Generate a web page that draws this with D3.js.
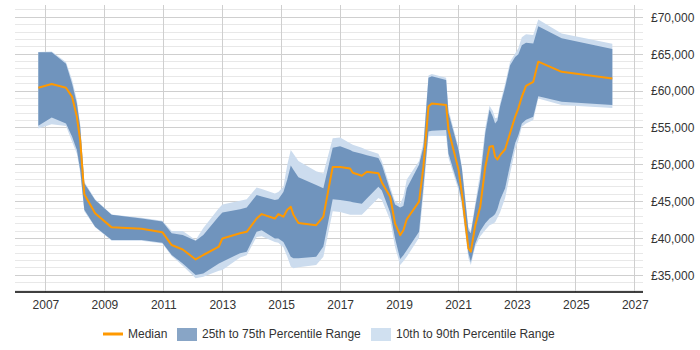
<!DOCTYPE html>
<html>
<head>
<meta charset="utf-8">
<script src="https://cdn.jsdelivr.net/npm/d3@7"></script>
<style>
  body { margin: 0; background: #fff; }
  text { font-family: "Liberation Sans", Arial, sans-serif; }
</style>
</head>
<body>
<svg id="chart" width="700" height="350"></svg>
<script>
var dates = ["2006-10-05","2007-03-20","2007-09-13","2007-11-28","2008-01-26","2008-03-07","2008-04-27","2008-09-08",
  "2009-04-01","2010-04-08","2010-12-20","2011-04-15","2011-08-30","2012-02-06","2012-05-11","2012-11-20",
  "2013-01-03","2013-08-10","2013-10-31","2014-03-03","2014-05-05","2014-10-15","2014-11-27","2015-01-29",
  "2015-03-18","2015-04-30","2015-06-02","2015-08-03","2016-03-10","2016-06-07","2016-10-01","2017-01-01",
  "2017-05-05","2017-06-07","2017-09-27","2017-11-28","2018-04-20","2018-06-02","2018-09-13","2018-11-13",
  "2019-01-15","2019-02-24","2019-04-07","2019-09-06","2019-10-30","2020-01-01","2020-02-11","2020-08-07",
  "2020-09-05","2021-01-08","2021-02-18","2021-05-10","2021-06-09","2021-08-03","2021-10-04","2021-12-05",
  "2022-01-27","2022-03-09","2022-04-06","2022-05-05","2022-06-06","2022-08-08","2022-10-09","2022-12-10",
  "2023-01-19","2023-03-03","2023-04-24","2023-07-23","2023-09-23","2024-07-09","2026-03-29"];

var median = [60450,60950,60450,59200,56500,53300,46000,43400,
  41500,41300,40850,39100,38500,37150,37750,38900,
  40000,40700,40900,42700,43300,42700,43300,42950,
  43900,44300,43200,42100,41800,42950,49700,49700,
  49500,48900,48500,49050,48850,47600,45650,42000,
  40450,41100,42600,45000,49700,57900,58300,58100,
  54700,49300,46100,38650,38200,41800,44300,49700,
  52450,52550,51100,50700,51300,52100,54300,56500,
  57650,59200,60700,61250,63980,62600,61700];

var p25 = [55300,56400,55600,53800,52000,49300,43900,41600,
  39800,39800,39400,37750,36600,35050,35250,36600,
  36850,38000,38200,40900,41100,40000,40000,39500,
  38500,37500,37300,37300,37500,38900,45300,45200,
  45000,44900,44700,45400,47000,46500,43500,40000,
  37200,37700,38400,40900,47000,54500,54600,54700,
  51500,47000,45000,38000,36800,39300,41000,42050,
  42700,43000,43300,44000,45200,46800,50000,52900,
  54000,55600,56100,56500,59300,58550,58100];

var p75 = [65250,65250,63700,61000,58300,55200,47500,45200,
  43200,42700,42300,40700,40450,39700,40450,43000,
  43500,43950,44200,45900,45700,45200,45300,46300,
  48000,49900,49300,48300,47250,46800,52300,52500,
  52000,51800,51500,51300,50900,50000,46500,44600,
  44200,44400,46800,50000,52400,61800,62000,61500,
  57000,52000,49500,41100,40700,44300,48000,54260,
  57500,56500,55600,56000,57900,60500,63500,64600,
  65000,66200,66550,66450,68800,67150,65700];

var p10 = [54900,55500,55250,53100,51500,48900,43700,41500,
  39700,39700,39300,37600,36300,34600,34800,35600,
  35700,37400,37700,40200,40300,39500,39400,38800,
  37500,36200,35950,36100,36400,37500,43700,43600,
  43200,43200,43200,43900,45500,45200,42500,38800,
  36400,36900,37500,40100,46000,53850,53900,53900,
  50900,46500,44300,37300,36400,38900,40300,41140,
  41800,42000,42200,42800,43500,45500,48800,52000,
  53300,55150,55600,56050,59000,58100,57700];

var p90 = [65300,65350,63950,61500,58800,55500,47700,45300,
  43250,42800,42400,41000,41000,39800,41400,44100,
  44600,45100,45300,46900,46700,46100,46300,47000,
  50000,52000,51500,50500,49100,48800,53600,53700,
  52900,52700,52300,52000,51500,50500,47000,45000,
  44700,45700,48000,50500,53000,62100,62300,61800,
  57500,52300,49800,41500,41000,44800,49000,55000,
  58000,57300,56300,56400,58300,61000,64000,65100,
  65800,67300,67700,67600,69700,67800,66400];

var xTickYears = [2007, 2009, 2011, 2013, 2015, 2017, 2019, 2021, 2023, 2025, 2027];
var yTickValues = [35000, 40000, 45000, 50000, 55000, 60000, 65000, 70000];
var legendLabels = ["Median", "25th to 75th Percentile Range", "10th to 90th Percentile Range"];

var parseDate = d3.timeParse("%Y-%m-%d");
var data = dates.map(function(d, i) {
  return {date: parseDate(d), med: median[i], q1: p25[i], q3: p75[i], lo: p10[i], hi: p90[i]};
});

var svg = d3.select("#chart"),
    plotLeft = 15, plotRight = 643, plotTop = 5, plotBottom = 292;

var x = d3.scaleTime()
    .domain([new Date(2005, 11, 20), new Date(2027, 3, 13)])
    .range([plotLeft, plotRight]);

var y = d3.scaleLinear()
    .domain([32730, 71670])
    .range([plotBottom, plotTop]);

var g = svg.append("g");

// minor grid every 1000
g.append("g").selectAll("line")
  .data(d3.range(33000, 71001, 1000).filter(function(v) { return v % 5000 !== 0; }))
  .enter().append("line")
    .attr("x1", plotLeft).attr("x2", plotRight)
    .attr("y1", function(d) { return y(d); })
    .attr("y2", function(d) { return y(d); })
    .attr("stroke", "#e8e8e8")
    .attr("shape-rendering", "crispEdges");

// major grid
g.append("g").selectAll("line")
  .data(yTickValues)
  .enter().append("line")
    .attr("x1", plotLeft).attr("x2", plotRight)
    .attr("y1", function(d) { return y(d); })
    .attr("y2", function(d) { return y(d); })
    .attr("stroke", "#cfcfcf")
    .attr("shape-rendering", "crispEdges");

g.append("g").selectAll("line")
  .data(xTickYears)
  .enter().append("line")
    .attr("x1", function(d) { return x(new Date(d, 0, 1)); })
    .attr("x2", function(d) { return x(new Date(d, 0, 1)); })
    .attr("y1", plotTop).attr("y2", plotBottom)
    .attr("stroke", "#cfcfcf")
    .attr("shape-rendering", "crispEdges");

var outerArea = d3.area()
    .x(function(d) { return x(d.date); })
    .y0(function(d) { return y(d.lo); })
    .y1(function(d) { return y(d.hi); });

var innerArea = d3.area()
    .x(function(d) { return x(d.date); })
    .y0(function(d) { return y(d.q1); })
    .y1(function(d) { return y(d.q3); });

var medLine = d3.line()
    .x(function(d) { return x(d.date); })
    .y(function(d) { return y(d.med); });

g.append("path").datum(data)
  .attr("d", outerArea)
  .attr("fill", "#ccdcee");

g.append("path").datum(data)
  .attr("d", innerArea)
  .attr("fill", "#7094bd");

g.append("path").datum(data)
  .attr("d", medLine)
  .attr("fill", "none")
  .attr("stroke", "#ff9900")
  .attr("stroke-width", 2)
  .attr("stroke-linejoin", "round");

// x axis
var xAxis = d3.axisBottom(x)
    .tickValues(xTickYears.map(function(d) { return new Date(d, 0, 1); }))
    .tickFormat(d3.timeFormat("%Y"))
    .tickSize(0)
    .tickPadding(8);

var gx = svg.append("g")
    .attr("transform", "translate(0," + plotBottom + ")")
    .call(xAxis);
gx.select(".domain").attr("d", "M" + plotLeft + ",0H" + plotRight).attr("stroke", "#000").attr("stroke-width", 1.5);
gx.selectAll("text").attr("font-size", 12).attr("fill", "#333")
  .attr("font-family", "'Liberation Sans', Arial, sans-serif");

// y axis on the right
var yAxis = d3.axisRight(y)
    .tickValues(yTickValues)
    .tickFormat(function(d) { return "£" + d3.format(",")(d); })
    .tickSize(0)
    .tickPadding(8);

var gy = svg.append("g")
    .attr("transform", "translate(" + plotRight + ",0)")
    .call(yAxis);
gy.select(".domain").remove();
gy.selectAll("text").attr("font-size", 12).attr("fill", "#333")
  .attr("font-family", "'Liberation Sans', Arial, sans-serif");

// legend
var legend = svg.append("g").attr("transform", "translate(0,334)");
legend.append("line")
  .attr("x1", 103).attr("x2", 123).attr("y1", 0).attr("y2", 0)
  .attr("stroke", "#ff9900").attr("stroke-width", 3);
legend.append("text").attr("x", 128).attr("y", 4).attr("font-size", 12).attr("fill", "#333").text(legendLabels[0]);
legend.append("rect").attr("x", 177).attr("y", -6).attr("width", 20).attr("height", 13).attr("fill", "#88a5c6");
legend.append("text").attr("x", 202).attr("y", 4).attr("font-size", 12).attr("fill", "#333").text(legendLabels[1]);
legend.append("rect").attr("x", 371).attr("y", -6).attr("width", 20).attr("height", 13).attr("fill", "#d0e0f0");
legend.append("text").attr("x", 396).attr("y", 4).attr("font-size", 12).attr("fill", "#333").text(legendLabels[2]);
</script>
</body>
</html>
